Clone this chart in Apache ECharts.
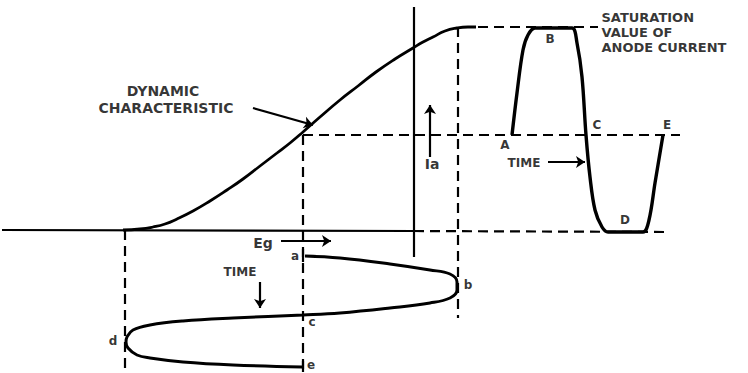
<!DOCTYPE html>
<html><head><meta charset="utf-8">
<script src="https://cdn.jsdelivr.net/npm/echarts@6/dist/echarts.min.js"></script>
<style>html,body{margin:0;padding:0;background:#fff}#c{width:748px;height:373px}</style>
</head><body><div id="c"></div>
<script>
// Diagram coordinates: x = grid voltage (drawing units), y = anode current (drawing units, downward)
const dynamicCharacteristic = [[123,230],[140,229],[153,227],[165,224],[177,219],[193,211],[210,201],[227,190],[243,179],[260,166],[277,153],[290,143],[303,132],[320,117],[340,100],[358,86],[376,72],[395,59],[413,48],[423,42],[433,37],[445,31],[457,28],[468,27],[476,27]];
const anodeCurrentWave = [[512,135],[517,93],[523,50],[528,35],[535,28],[553,28],[572,28],[577,43],[582,77],[586,135],[590,177],[595,210],[602,227],[608,232],[625,232],[643,232],[649,220],[655,183],[663,135]];
const gridVoltageWave = [[305,256],[340,258],[390,264],[430,270],[450,274],[457,282],[457,290],[450,298],[430,303],[390,308],[340,313],[303,315],[233,318],[183,321],[150,325],[133,330],[127,337],[126,342],[128,348],[137,355],[150,358],[183,362],[233,365],[302,367]];
const axisSolid = [[[2,230],[414,231]], [[414,7],[414,257]]];
const dashedGuides = [
  [[414,231],[670,232]],
  [[462,27],[598,27]],
  [[303,135],[680,135]],
  [[303,135],[303,372]],
  [[458,27],[458,318]],
  [[125,230],[125,373]]
];
const ticks = [[[303,249],[303,262]], [[303,361],[303,372]]];
const arrows = [
  [[253,108],[313,125]],
  [[430,157],[430,105]],
  [[548,162],[585,162]],
  [[281,241],[331,241]],
  [[260,282],[260,308]]
];
const pointLabels = [['A',505,145],['B',550,39],['C',597,125],['D',625,220],['E',667,125]];
const waveLabels = [['a',295,256],['b',468,285],['c',312,322],['d',113,341],['e',311,365]];
const textLabels = [['DYNAMIC',163,91],['CHARACTERISTIC',166,108],['TIME',524,163],['TIME',240,272],['Ia',432,164],['Eg',263,243]];
const noteLabel = ['SATURATION\nVALUE OF\nANODE CURRENT', 601, 32];

const FONT = 'DejaVu Sans';
const INK = '#000';
const series = [];
axisSolid.forEach(seg => series.push({type:'line', data:seg, symbol:'none', lineStyle:{color:INK,width:2.2}, silent:true}));
dashedGuides.forEach(seg => series.push({type:'line', data:seg, symbol:'none', lineStyle:{color:INK,width:2.2,type:[10,6]}, silent:true}));
ticks.forEach(seg => series.push({type:'line', data:seg, symbol:'none', lineStyle:{color:INK,width:2.2}, silent:true}));
series.push({type:'line', data:dynamicCharacteristic, symbol:'none', smooth:0.5, lineStyle:{color:INK,width:2.8}});
series.push({type:'line', data:anodeCurrentWave, symbol:'none', smooth:0.35, lineStyle:{color:INK,width:3.4}});
series.push({type:'line', data:gridVoltageWave, symbol:'none', smooth:0.4, lineStyle:{color:INK,width:3}});
series.push({type:'lines', coordinateSystem:'cartesian2d', symbol:['none','arrow'], symbolSize:9,
  lineStyle:{color:INK,width:2.2,opacity:1,curveness:0}, data: arrows.map(a => ({coords:a}))});
function labelSeries(arr, size){
  return {type:'scatter', symbolSize:1, itemStyle:{color:'rgba(0,0,0,0)'},
    data: arr.map(l => ({name:l[0], value:[l[1], l[2]]})),
    label:{show:true, position:'inside', formatter: p => p.name, color:INK, textBorderWidth:0, fontFamily:FONT, fontWeight:'bold', fontSize:size}};
}
series.push(labelSeries(pointLabels, 12));
series.push(labelSeries(waveLabels, 12));
series.push(labelSeries(textLabels.slice(0,2), 14));
series.push(labelSeries(textLabels.slice(2,4), 12));
series.push(labelSeries(textLabels.slice(4), 14));
series.push({type:'scatter', symbolSize:1, itemStyle:{color:'rgba(0,0,0,0)'},
  data:[{name:noteLabel[0], value:[noteLabel[1], noteLabel[2]]}],
  label:{show:true, position:'right', distance:0, align:'left', formatter:p=>p.name, color:INK, textBorderWidth:0, fontFamily:FONT, fontWeight:'bold', fontSize:13, lineHeight:15}});

const chart = echarts.init(document.getElementById('c'), null, {renderer:'svg'});
chart.setOption({
  animation:false,
  backgroundColor:'#fff',
  grid:{left:0,right:0,top:0,bottom:0},
  xAxis:{type:'value', min:0, max:748, show:false},
  yAxis:{type:'value', min:0, max:373, inverse:true, show:false},
  series: series
});
</script></body></html>
